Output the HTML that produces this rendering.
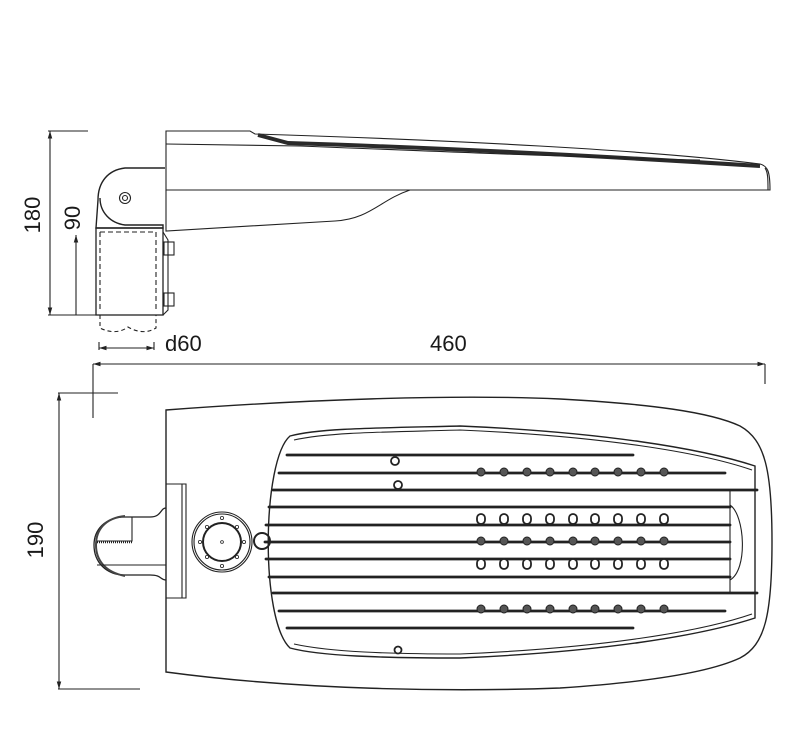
<!DOCTYPE html>
<html><head><meta charset="utf-8"><style>
html,body{margin:0;padding:0;background:#fff;}
svg{display:block;}
text{font-family:"Liberation Sans",sans-serif;fill:#1a1a1a;}
</style></head><body>
<svg width="786" height="740" viewBox="0 0 786 740" xmlns="http://www.w3.org/2000/svg">
<defs>
<marker id="ar" viewBox="0 0 10 10" refX="10" refY="5" markerWidth="7" markerHeight="7" orient="auto-start-reverse"><path d="M0,2 L10,5 L0,8 z" fill="#222"/></marker>
</defs>
<g fill="none" stroke="#222" stroke-width="1.1">
<!-- ===== TOP SIDE VIEW ===== -->
<path d="M166,131 L250,131 L255,134 C450,140 650,150 760,164 C768,166 770,172 770,190 L166,190 Z"/>
<path d="M258,135 L288,143 C450,148 600,156 760,166" stroke-width="4" stroke="#2a2a2a"/>
<path d="M166,144 L300,146 C450,152 600,158 700,160"/>
<path d="M166,190 L166,231 L335,221 C370,219 380,200 410,190"/>
<path d="M765,168 C768,172 768,180 768,190"/>
<path d="M165,168 L125,168 C108,170 98,182 98,200 L96,228 L163,228 L163,225 L125,225 C110,223 100,212 100,198" stroke-width="1.4"/>
<circle cx="125" cy="198" r="5.5"/><circle cx="125" cy="198" r="2.5"/>
<rect x="96" y="228" width="67" height="87" stroke-width="1.3"/>
<path d="M100,232 L100,312 M156,232 L156,312 M100,232 L156,232" stroke-dasharray="5,3"/>
<path d="M163,232 L168,240 L168,310 L163,315"/>
<rect x="164" y="242" width="10" height="13"/><rect x="164" y="293" width="10" height="13"/>
<path d="M100,315 L100,328 C110,333 120,333 128,327 C138,333 148,333 156,328 L156,315" stroke-dasharray="4,3"/>
<path d="M48,131 L88,131 M48,315 L96,315"/>
<path d="M50,315 L50,131" marker-end="url(#ar)" marker-start="url(#ar)"/>
<path d="M76,315 L76,235" marker-end="url(#ar)"/>
<path d="M99,342 L99,350 M154,342 L154,350"/>
<path d="M99,348 L154,348" marker-end="url(#ar)" marker-start="url(#ar)"/>
<path d="M93,364 L765,364" marker-end="url(#ar)" marker-start="url(#ar)"/>
<path d="M93,364 L93,418 M765,364 L765,384 M58,393 L118,393"/>
<path d="M59,393 L59,689" marker-end="url(#ar)" marker-start="url(#ar)"/>
<path d="M58,689 L140,689"/>
<!-- ===== BOTTOM VIEW ===== -->
<path d="M166,410 C300,400 450,394 560,399 C650,404 710,412 740,426 C765,440 772,470 772,542 C772,615 765,645 740,658 C710,672 650,682 560,688 C450,692 300,690 166,672 Z" stroke-width="1.4"/>
<path d="M166,484 L186,484 L186,598 L166,598 M182,484 L182,598"/>
<path d="M166,508 C160,508 162,517 150,517 L125,517 C105,517 94,530 94,545 C94,562 106,575 125,575 L150,575 C162,575 160,580 166,580" stroke-width="1.3"/>
<path d="M125,516 C105,518 96,530 96,545 C96,560 105,572 125,576" stroke-width="2" stroke="#444"/>
<path d="M132,517 L132,541 L97,541 M97,565 L166,565" />
<path d="M97,542 L132,542" stroke-width="2.5" stroke-dasharray="1,1"/>
<circle cx="222" cy="542" r="30"/><circle cx="222" cy="542" r="28"/>
<circle cx="222" cy="542" r="19" stroke-width="2"/>
<circle cx="262" cy="541" r="8" stroke-width="2"/>
<g fill="#fff" stroke-width="0.8">
<circle cx="222" cy="518" r="1.6"/><circle cx="222" cy="566" r="1.6"/><circle cx="200" cy="542" r="1.6"/><circle cx="244" cy="542" r="1.6"/>
<circle cx="207" cy="527" r="1.6"/><circle cx="237" cy="527" r="1.6"/><circle cx="207" cy="557" r="1.6"/><circle cx="237" cy="557" r="1.6"/><circle cx="222" cy="542" r="1.4"/>
</g>
<path d="M290,436 C320,428 380,428 460,426 C600,432 700,448 755,466 L755,618 C700,636 600,652 460,658 C380,658 320,656 290,648 C260,620 262,460 290,436 Z" stroke-width="1.4"/>
<path d="M294,440 C330,432 390,432 460,430 C600,436 700,452 752,470" />
<path d="M294,644 C330,652 390,654 460,654 C600,648 700,632 752,614" />
<path d="M730,490 L730,593 M730,505 C745,515 748,570 730,580"/>
<g stroke="#222" stroke-width="2.8" stroke-linecap="round">
<path d="M287,455 L633,455"/><path d="M279,473 L725,473"/><path d="M273,490 L757,490"/>
<path d="M269,507 L730,507"/><path d="M266,525 L730,525"/><path d="M265,542 L730,542"/>
<path d="M266,559 L730,559"/><path d="M269,577 L730,577"/><path d="M273,593 L757,593"/>
<path d="M279,611 L725,611"/><path d="M287,628 L633,628"/>
</g>
<g stroke="#222" fill="#555" stroke-width="1">
<circle cx="481" cy="472" r="4"/><circle cx="504" cy="472" r="4"/><circle cx="527" cy="472" r="4"/><circle cx="550" cy="472" r="4"/><circle cx="573" cy="472" r="4"/><circle cx="595" cy="472" r="4"/><circle cx="618" cy="472" r="4"/><circle cx="641" cy="472" r="4"/><circle cx="664" cy="472" r="4"/>
<circle cx="481" cy="541" r="4"/><circle cx="504" cy="541" r="4"/><circle cx="527" cy="541" r="4"/><circle cx="550" cy="541" r="4"/><circle cx="573" cy="541" r="4"/><circle cx="595" cy="541" r="4"/><circle cx="618" cy="541" r="4"/><circle cx="641" cy="541" r="4"/><circle cx="664" cy="541" r="4"/>
<circle cx="481" cy="609" r="4"/><circle cx="504" cy="609" r="4"/><circle cx="527" cy="609" r="4"/><circle cx="550" cy="609" r="4"/><circle cx="573" cy="609" r="4"/><circle cx="595" cy="609" r="4"/><circle cx="618" cy="609" r="4"/><circle cx="641" cy="609" r="4"/><circle cx="664" cy="609" r="4"/>
</g>
<g stroke="#222" fill="#fff" stroke-width="1.8">
<rect x="477" y="514" width="8" height="10" rx="4"/><rect x="500" y="514" width="8" height="10" rx="4"/><rect x="523" y="514" width="8" height="10" rx="4"/><rect x="546" y="514" width="8" height="10" rx="4"/><rect x="569" y="514" width="8" height="10" rx="4"/><rect x="591" y="514" width="8" height="10" rx="4"/><rect x="614" y="514" width="8" height="10" rx="4"/><rect x="637" y="514" width="8" height="10" rx="4"/><rect x="660" y="514" width="8" height="10" rx="4"/>
<rect x="477" y="559" width="8" height="10" rx="4"/><rect x="500" y="559" width="8" height="10" rx="4"/><rect x="523" y="559" width="8" height="10" rx="4"/><rect x="546" y="559" width="8" height="10" rx="4"/><rect x="569" y="559" width="8" height="10" rx="4"/><rect x="591" y="559" width="8" height="10" rx="4"/><rect x="614" y="559" width="8" height="10" rx="4"/><rect x="637" y="559" width="8" height="10" rx="4"/><rect x="660" y="559" width="8" height="10" rx="4"/>
<circle cx="395" cy="461" r="4"/><circle cx="398" cy="485" r="4"/><circle cx="398" cy="650" r="3.5"/>
</g>
</g>
<text x="165" y="351" font-size="22">d60</text>
<text x="430" y="351" font-size="22">460</text>
<text transform="translate(40,215) rotate(-90)" font-size="22" text-anchor="middle">180</text>
<text transform="translate(80,218) rotate(-90)" font-size="22" text-anchor="middle">90</text>
<text transform="translate(43,540) rotate(-90)" font-size="22" text-anchor="middle">190</text>
</svg>
</body></html>
